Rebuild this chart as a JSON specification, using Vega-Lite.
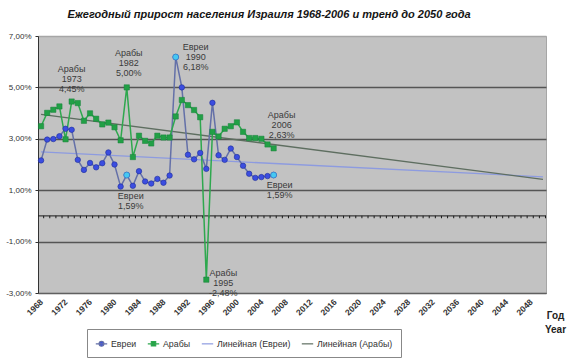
{
  "$schema": "https://vega.github.io/schema/vega-lite/v6.json",
  "width": 508,
  "height": 257,
  "autosize": {"type": "none"},
  "padding": {"left": 38, "top": 36, "right": 24, "bottom": 68},
  "background": "white",
  "config": {
    "font": "Liberation Sans",
    "view": {"fill": "#c2c2c2", "stroke": "#a6a6a6", "strokeWidth": 1},
    "axisX": {"labelAngle": -45, "labelAlign": "right", "labelBaseline": "middle", "labelFontSize": 8.5, "labelFontWeight": "bold", "labelColor": "#333333", "ticks": false, "grid": false, "domainColor": "#606060", "labelPadding": 7, "labelFlush": false, "labelOverlap": false, "titleX": 517, "titleY": 22, "titleAlign": "center", "titleBaseline": "middle", "titleFontSize": 10, "titleFontWeight": "bold", "titleColor": "#222222", "titleLineHeight": 14, "format": "d"},
    "axisY": {"grid": true, "gridWidth": 1.3, "domainColor": "#333333", "tickColor": "#333333", "tickSize": 3, "labelFontSize": 8, "labelColor": "#333333", "labelPadding": 4}
  },
  "title": {"text": "Ежегодный прирост населения Израиля 1968-2006 и тренд до 2050 года", "fontSize": 11, "fontWeight": "bold", "fontStyle": "italic", "color": "#151515", "anchor": "middle", "dx": -23, "offset": 12},
  "datasets": {
    "main": [
      {"series": "Евреи", "year": 1968, "value": 2.16}, {"series": "Евреи", "year": 1969, "value": 2.97}, {"series": "Евреи", "year": 1970, "value": 2.99}, {"series": "Евреи", "year": 1971, "value": 3.10}, {"series": "Евреи", "year": 1972, "value": 3.39}, {"series": "Евреи", "year": 1973, "value": 3.35}, {"series": "Евреи", "year": 1974, "value": 2.18}, {"series": "Евреи", "year": 1975, "value": 1.79}, {"series": "Евреи", "year": 1976, "value": 2.06}, {"series": "Евреи", "year": 1977, "value": 1.89}, {"series": "Евреи", "year": 1978, "value": 2.05}, {"series": "Евреи", "year": 1979, "value": 2.47}, {"series": "Евреи", "year": 1980, "value": 2.00}, {"series": "Евреи", "year": 1981, "value": 1.14}, {"series": "Евреи", "year": 1982, "value": 1.59}, {"series": "Евреи", "year": 1983, "value": 1.17}, {"series": "Евреи", "year": 1984, "value": 1.74}, {"series": "Евреи", "year": 1985, "value": 1.34}, {"series": "Евреи", "year": 1986, "value": 1.26}, {"series": "Евреи", "year": 1987, "value": 1.44}, {"series": "Евреи", "year": 1988, "value": 1.29}, {"series": "Евреи", "year": 1989, "value": 1.57}, {"series": "Евреи", "year": 1990, "value": 6.18}, {"series": "Евреи", "year": 1991, "value": 5.00}, {"series": "Евреи", "year": 1992, "value": 2.38}, {"series": "Евреи", "year": 1993, "value": 2.20}, {"series": "Евреи", "year": 1994, "value": 2.45}, {"series": "Евреи", "year": 1995, "value": 1.83}, {"series": "Евреи", "year": 1996, "value": 4.40}, {"series": "Евреи", "year": 1997, "value": 2.36}, {"series": "Евреи", "year": 1998, "value": 2.18}, {"series": "Евреи", "year": 1999, "value": 2.62}, {"series": "Евреи", "year": 2000, "value": 2.29}, {"series": "Евреи", "year": 2001, "value": 1.95}, {"series": "Евреи", "year": 2002, "value": 1.64}, {"series": "Евреи", "year": 2003, "value": 1.48}, {"series": "Евреи", "year": 2004, "value": 1.51}, {"series": "Евреи", "year": 2005, "value": 1.55}, {"series": "Евреи", "year": 2006, "value": 1.59},
      {"series": "Арабы", "year": 1968, "value": 3.49}, {"series": "Арабы", "year": 1969, "value": 4.01}, {"series": "Арабы", "year": 1970, "value": 4.13}, {"series": "Арабы", "year": 1971, "value": 4.26}, {"series": "Арабы", "year": 1972, "value": 2.98}, {"series": "Арабы", "year": 1973, "value": 4.45}, {"series": "Арабы", "year": 1974, "value": 4.39}, {"series": "Арабы", "year": 1975, "value": 3.70}, {"series": "Арабы", "year": 1976, "value": 3.99}, {"series": "Арабы", "year": 1977, "value": 3.78}, {"series": "Арабы", "year": 1978, "value": 3.56}, {"series": "Арабы", "year": 1979, "value": 3.63}, {"series": "Арабы", "year": 1980, "value": 3.45}, {"series": "Арабы", "year": 1981, "value": 2.94}, {"series": "Арабы", "year": 1982, "value": 5.00}, {"series": "Арабы", "year": 1983, "value": 2.29}, {"series": "Арабы", "year": 1984, "value": 3.12}, {"series": "Арабы", "year": 1985, "value": 2.92}, {"series": "Арабы", "year": 1986, "value": 2.82}, {"series": "Арабы", "year": 1987, "value": 3.12}, {"series": "Арабы", "year": 1988, "value": 3.05}, {"series": "Арабы", "year": 1989, "value": 3.05}, {"series": "Арабы", "year": 1990, "value": 3.87}, {"series": "Арабы", "year": 1991, "value": 4.51}, {"series": "Арабы", "year": 1992, "value": 4.31}, {"series": "Арабы", "year": 1993, "value": 4.12}, {"series": "Арабы", "year": 1994, "value": 3.84}, {"series": "Арабы", "year": 1995, "value": -2.48}, {"series": "Арабы", "year": 1996, "value": 3.27}, {"series": "Арабы", "year": 1997, "value": 3.09}, {"series": "Арабы", "year": 1998, "value": 3.39}, {"series": "Арабы", "year": 1999, "value": 3.49}, {"series": "Арабы", "year": 2000, "value": 3.64}, {"series": "Арабы", "year": 2001, "value": 3.27}, {"series": "Арабы", "year": 2002, "value": 3.03}, {"series": "Арабы", "year": 2003, "value": 3.03}, {"series": "Арабы", "year": 2004, "value": 3.00}, {"series": "Арабы", "year": 2005, "value": 2.78}, {"series": "Арабы", "year": 2006, "value": 2.63}
    ],
    "trend": [
      {"series": "Линейная (Евреи)", "year": 1968, "value": 2.49}, {"series": "Линейная (Евреи)", "year": 2050, "value": 1.52},
      {"series": "Линейная (Арабы)", "year": 1968, "value": 3.95}, {"series": "Линейная (Арабы)", "year": 2050, "value": 1.42}
    ]
  },
  "layer": [
    {
      "data": {"values": [{"value": 0}]},
      "mark": {"type": "rule", "color": "#1a1a1a", "strokeWidth": 1},
      "encoding": {
        "y": {"field": "value", "type": "quantitative", "title": null, "scale": {"domain": [-3, 7], "nice": false, "zero": false}, "axis": {"values": [-3, -1, 1, 3, 5, 7], "labelExpr": "replace(replace(format(datum.value, '.2f'), '.', ','), '\u2212', '-') + '%'", "gridColor": {"condition": {"test": "datum.value === 7", "value": "#a6a6a6"}, "value": "#555555"}}}
      }
    },
    {
      "data": {"values": [{"value": 0}]},
      "mark": {"type": "rule", "color": "#1a1a1a", "strokeWidth": 2.5, "strokeDash": [1, 5.12], "yOffset": 1.2},
      "encoding": {
        "y": {"field": "value", "type": "quantitative", "title": null, "scale": {"domain": [-3, 7], "nice": false, "zero": false}, "axis": {"values": [-3, -1, 1, 3, 5, 7], "labelExpr": "replace(replace(format(datum.value, '.2f'), '.', ','), '\u2212', '-') + '%'", "gridColor": {"condition": {"test": "datum.value === 7", "value": "#a6a6a6"}, "value": "#555555"}}}
      }
    },
    {
      "data": {"name": "trend"},
      "mark": {"type": "line", "strokeWidth": 1.3},
      "encoding": {
        "x": {"field": "year", "type": "quantitative", "title": ["Год", "Year"], "scale": {"domain": [1967.5, 2050.5], "nice": false, "zero": false}, "axis": {"values": [1968, 1972, 1976, 1980, 1984, 1988, 1992, 1996, 2000, 2004, 2008, 2012, 2016, 2020, 2024, 2028, 2032, 2036, 2040, 2044, 2048]}},
        "y": {"field": "value", "type": "quantitative", "title": null, "scale": {"domain": [-3, 7], "nice": false, "zero": false}, "axis": {"values": [-3, -1, 1, 3, 5, 7], "labelExpr": "replace(replace(format(datum.value, '.2f'), '.', ','), '\u2212', '-') + '%'", "gridColor": {"condition": {"test": "datum.value === 7", "value": "#a6a6a6"}, "value": "#555555"}}},
        "color": {"field": "series", "type": "nominal", "scale": {"domain": ["Евреи", "Арабы", "Линейная (Евреи)", "Линейная (Арабы)"], "range": ["#6470a8", "#2ea84e", "#8d9be0", "#5e6e60"]},
          "legend": {"orient": "none", "legendX": 49, "legendY": 293, "direction": "horizontal", "columns": 4, "title": null, "fillColor": "white", "strokeColor": "#888888", "padding": 8, "labelFontSize": 8.8, "labelColor": "#333333", "symbolSize": 130, "labelOffset": 3, "columnPadding": 8, "symbolStrokeWidth": 1.2,
            "encode": {"symbols": {"update": {
              "shape": {"signal": "datum.value === 'Евреи' ? 'M-1,0H1M-0.42,0A0.42,0.42,0,1,1,0.42,0A0.42,0.42,0,1,1,-0.42,0Z' : datum.value === 'Арабы' ? 'M-1,0H1M-0.38,-0.38H0.38V0.38H-0.38Z' : 'M-1,0H1'"},
              "fill": {"signal": "datum.value === 'Евреи' ? '#3a4fe0' : datum.value === 'Арабы' ? '#22a046' : 'transparent'"},
              "stroke": {"signal": "datum.value === 'Евреи' ? '#3a4fe0' : datum.value === 'Арабы' ? '#22a046' : datum.value === 'Линейная (Евреи)' ? '#a8acc8' : '#707070'"},
              "strokeWidth": {"value": 1.2},
              "opacity": {"value": 1}
            }}}}}
      }
    },
    {
      "data": {"name": "main"},
      "mark": {"type": "line", "strokeWidth": 1.5},
      "encoding": {
        "x": {"field": "year", "type": "quantitative", "title": ["Год", "Year"], "scale": {"domain": [1967.5, 2050.5], "nice": false, "zero": false}, "axis": {"values": [1968, 1972, 1976, 1980, 1984, 1988, 1992, 1996, 2000, 2004, 2008, 2012, 2016, 2020, 2024, 2028, 2032, 2036, 2040, 2044, 2048]}},
        "y": {"field": "value", "type": "quantitative", "title": null, "scale": {"domain": [-3, 7], "nice": false, "zero": false}, "axis": {"values": [-3, -1, 1, 3, 5, 7], "labelExpr": "replace(replace(format(datum.value, '.2f'), '.', ','), '\u2212', '-') + '%'", "gridColor": {"condition": {"test": "datum.value === 7", "value": "#a6a6a6"}, "value": "#555555"}}},
        "color": {"field": "series", "type": "nominal", "scale": {"domain": ["Евреи", "Арабы", "Линейная (Евреи)", "Линейная (Арабы)"], "range": ["#6470a8", "#2ea84e", "#8d9be0", "#5e6e60"]}}
      }
    },
    {
      "data": {"name": "main"},
      "transform": [{"filter": "datum.series === 'Евреи'"}],
      "mark": {"type": "point", "shape": "circle", "filled": true, "fill": "#3b4de0", "stroke": "#1f2d99", "strokeWidth": 0.6, "size": 30, "opacity": 1},
      "encoding": {
        "x": {"field": "year", "type": "quantitative", "title": ["Год", "Year"], "scale": {"domain": [1967.5, 2050.5], "nice": false, "zero": false}, "axis": {"values": [1968, 1972, 1976, 1980, 1984, 1988, 1992, 1996, 2000, 2004, 2008, 2012, 2016, 2020, 2024, 2028, 2032, 2036, 2040, 2044, 2048]}},
        "y": {"field": "value", "type": "quantitative", "title": null, "scale": {"domain": [-3, 7], "nice": false, "zero": false}, "axis": {"values": [-3, -1, 1, 3, 5, 7], "labelExpr": "replace(replace(format(datum.value, '.2f'), '.', ','), '\u2212', '-') + '%'", "gridColor": {"condition": {"test": "datum.value === 7", "value": "#a6a6a6"}, "value": "#555555"}}}
      }
    },
    {
      "data": {"name": "main"},
      "transform": [{"filter": "datum.series === 'Арабы'"}],
      "mark": {"type": "point", "shape": "square", "filled": true, "fill": "#22a046", "stroke": "#17803a", "strokeWidth": 0.5, "size": 28, "opacity": 1},
      "encoding": {
        "x": {"field": "year", "type": "quantitative", "title": ["Год", "Year"], "scale": {"domain": [1967.5, 2050.5], "nice": false, "zero": false}, "axis": {"values": [1968, 1972, 1976, 1980, 1984, 1988, 1992, 1996, 2000, 2004, 2008, 2012, 2016, 2020, 2024, 2028, 2032, 2036, 2040, 2044, 2048]}},
        "y": {"field": "value", "type": "quantitative", "title": null, "scale": {"domain": [-3, 7], "nice": false, "zero": false}, "axis": {"values": [-3, -1, 1, 3, 5, 7], "labelExpr": "replace(replace(format(datum.value, '.2f'), '.', ','), '\u2212', '-') + '%'", "gridColor": {"condition": {"test": "datum.value === 7", "value": "#a6a6a6"}, "value": "#555555"}}}
      }
    },
    {
      "data": {"name": "main"},
      "transform": [{"filter": "datum.series === 'Евреи' && (datum.year === 1982 || datum.year === 1990 || datum.year === 2006)"}],
      "mark": {"type": "point", "shape": "circle", "filled": true, "fill": "#45c8f2", "stroke": "#3a7ac8", "strokeWidth": 0.8, "size": 36, "opacity": 1},
      "encoding": {
        "x": {"field": "year", "type": "quantitative", "title": ["Год", "Year"], "scale": {"domain": [1967.5, 2050.5], "nice": false, "zero": false}, "axis": {"values": [1968, 1972, 1976, 1980, 1984, 1988, 1992, 1996, 2000, 2004, 2008, 2012, 2016, 2020, 2024, 2028, 2032, 2036, 2040, 2044, 2048]}},
        "y": {"field": "value", "type": "quantitative", "title": null, "scale": {"domain": [-3, 7], "nice": false, "zero": false}, "axis": {"values": [-3, -1, 1, 3, 5, 7], "labelExpr": "replace(replace(format(datum.value, '.2f'), '.', ','), '\u2212', '-') + '%'", "gridColor": {"condition": {"test": "datum.value === 7", "value": "#a6a6a6"}, "value": "#555555"}}}
      }
    },
    {
      "data": {"values": [{"year": 1973, "value": 4.45, "label": "Арабы\n1973\n4,45%"}]},
      "mark": {"type": "text", "lineBreak": "\n", "fontSize": 9, "lineHeight": 10, "color": "#3a3a3a", "align": "center", "baseline": "middle", "dx": 0, "dy": -33},
      "encoding": {
        "x": {"field": "year", "type": "quantitative", "title": ["Год", "Year"], "scale": {"domain": [1967.5, 2050.5], "nice": false, "zero": false}, "axis": {"values": [1968, 1972, 1976, 1980, 1984, 1988, 1992, 1996, 2000, 2004, 2008, 2012, 2016, 2020, 2024, 2028, 2032, 2036, 2040, 2044, 2048]}},
        "y": {"field": "value", "type": "quantitative", "title": null, "scale": {"domain": [-3, 7], "nice": false, "zero": false}, "axis": {"values": [-3, -1, 1, 3, 5, 7], "labelExpr": "replace(replace(format(datum.value, '.2f'), '.', ','), '\u2212', '-') + '%'", "gridColor": {"condition": {"test": "datum.value === 7", "value": "#a6a6a6"}, "value": "#555555"}}},
        "text": {"field": "label", "type": "nominal"}
      }
    },
    {
      "data": {"values": [{"year": 1982, "value": 5.00, "label": "Арабы\n1982\n5,00%"}]},
      "mark": {"type": "text", "lineBreak": "\n", "fontSize": 9, "lineHeight": 10, "color": "#3a3a3a", "align": "center", "baseline": "middle", "dx": 2, "dy": -34},
      "encoding": {
        "x": {"field": "year", "type": "quantitative", "title": ["Год", "Year"], "scale": {"domain": [1967.5, 2050.5], "nice": false, "zero": false}, "axis": {"values": [1968, 1972, 1976, 1980, 1984, 1988, 1992, 1996, 2000, 2004, 2008, 2012, 2016, 2020, 2024, 2028, 2032, 2036, 2040, 2044, 2048]}},
        "y": {"field": "value", "type": "quantitative", "title": null, "scale": {"domain": [-3, 7], "nice": false, "zero": false}, "axis": {"values": [-3, -1, 1, 3, 5, 7], "labelExpr": "replace(replace(format(datum.value, '.2f'), '.', ','), '\u2212', '-') + '%'", "gridColor": {"condition": {"test": "datum.value === 7", "value": "#a6a6a6"}, "value": "#555555"}}},
        "text": {"field": "label", "type": "nominal"}
      }
    },
    {
      "data": {"values": [{"year": 1990, "value": 6.18, "label": "Евреи\n1990\n6,18%"}]},
      "mark": {"type": "text", "lineBreak": "\n", "fontSize": 9, "lineHeight": 10, "color": "#3a3a3a", "align": "center", "baseline": "middle", "dx": 20, "dy": -10},
      "encoding": {
        "x": {"field": "year", "type": "quantitative", "title": ["Год", "Year"], "scale": {"domain": [1967.5, 2050.5], "nice": false, "zero": false}, "axis": {"values": [1968, 1972, 1976, 1980, 1984, 1988, 1992, 1996, 2000, 2004, 2008, 2012, 2016, 2020, 2024, 2028, 2032, 2036, 2040, 2044, 2048]}},
        "y": {"field": "value", "type": "quantitative", "title": null, "scale": {"domain": [-3, 7], "nice": false, "zero": false}, "axis": {"values": [-3, -1, 1, 3, 5, 7], "labelExpr": "replace(replace(format(datum.value, '.2f'), '.', ','), '\u2212', '-') + '%'", "gridColor": {"condition": {"test": "datum.value === 7", "value": "#a6a6a6"}, "value": "#555555"}}},
        "text": {"field": "label", "type": "nominal"}
      }
    },
    {
      "data": {"values": [{"year": 1995, "value": -2.48, "label": "Арабы\n1995\n-2,48%"}]},
      "mark": {"type": "text", "lineBreak": "\n", "fontSize": 9, "lineHeight": 10, "color": "#3a3a3a", "align": "center", "baseline": "middle", "dx": 17, "dy": -7},
      "encoding": {
        "x": {"field": "year", "type": "quantitative", "title": ["Год", "Year"], "scale": {"domain": [1967.5, 2050.5], "nice": false, "zero": false}, "axis": {"values": [1968, 1972, 1976, 1980, 1984, 1988, 1992, 1996, 2000, 2004, 2008, 2012, 2016, 2020, 2024, 2028, 2032, 2036, 2040, 2044, 2048]}},
        "y": {"field": "value", "type": "quantitative", "title": null, "scale": {"domain": [-3, 7], "nice": false, "zero": false}, "axis": {"values": [-3, -1, 1, 3, 5, 7], "labelExpr": "replace(replace(format(datum.value, '.2f'), '.', ','), '\u2212', '-') + '%'", "gridColor": {"condition": {"test": "datum.value === 7", "value": "#a6a6a6"}, "value": "#555555"}}},
        "text": {"field": "label", "type": "nominal"}
      }
    },
    {
      "data": {"values": [{"year": 2006, "value": 2.63, "label": "Арабы\n2006\n2,63%"}]},
      "mark": {"type": "text", "lineBreak": "\n", "fontSize": 9, "lineHeight": 10, "color": "#3a3a3a", "align": "center", "baseline": "middle", "dx": 8, "dy": -33},
      "encoding": {
        "x": {"field": "year", "type": "quantitative", "title": ["Год", "Year"], "scale": {"domain": [1967.5, 2050.5], "nice": false, "zero": false}, "axis": {"values": [1968, 1972, 1976, 1980, 1984, 1988, 1992, 1996, 2000, 2004, 2008, 2012, 2016, 2020, 2024, 2028, 2032, 2036, 2040, 2044, 2048]}},
        "y": {"field": "value", "type": "quantitative", "title": null, "scale": {"domain": [-3, 7], "nice": false, "zero": false}, "axis": {"values": [-3, -1, 1, 3, 5, 7], "labelExpr": "replace(replace(format(datum.value, '.2f'), '.', ','), '\u2212', '-') + '%'", "gridColor": {"condition": {"test": "datum.value === 7", "value": "#a6a6a6"}, "value": "#555555"}}},
        "text": {"field": "label", "type": "nominal"}
      }
    },
    {
      "data": {"values": [{"year": 1982, "value": 1.59, "label": "Евреи\n1,59%"}]},
      "mark": {"type": "text", "lineBreak": "\n", "fontSize": 9, "lineHeight": 10, "color": "#3a3a3a", "align": "center", "baseline": "middle", "dx": 4, "dy": 21},
      "encoding": {
        "x": {"field": "year", "type": "quantitative", "title": ["Год", "Year"], "scale": {"domain": [1967.5, 2050.5], "nice": false, "zero": false}, "axis": {"values": [1968, 1972, 1976, 1980, 1984, 1988, 1992, 1996, 2000, 2004, 2008, 2012, 2016, 2020, 2024, 2028, 2032, 2036, 2040, 2044, 2048]}},
        "y": {"field": "value", "type": "quantitative", "title": null, "scale": {"domain": [-3, 7], "nice": false, "zero": false}, "axis": {"values": [-3, -1, 1, 3, 5, 7], "labelExpr": "replace(replace(format(datum.value, '.2f'), '.', ','), '\u2212', '-') + '%'", "gridColor": {"condition": {"test": "datum.value === 7", "value": "#a6a6a6"}, "value": "#555555"}}},
        "text": {"field": "label", "type": "nominal"}
      }
    },
    {
      "data": {"values": [{"year": 2006, "value": 1.59, "label": "Евреи\n1,59%"}]},
      "mark": {"type": "text", "lineBreak": "\n", "fontSize": 9, "lineHeight": 10, "color": "#3a3a3a", "align": "center", "baseline": "middle", "dx": 6, "dy": 10},
      "encoding": {
        "x": {"field": "year", "type": "quantitative", "title": ["Год", "Year"], "scale": {"domain": [1967.5, 2050.5], "nice": false, "zero": false}, "axis": {"values": [1968, 1972, 1976, 1980, 1984, 1988, 1992, 1996, 2000, 2004, 2008, 2012, 2016, 2020, 2024, 2028, 2032, 2036, 2040, 2044, 2048]}},
        "y": {"field": "value", "type": "quantitative", "title": null, "scale": {"domain": [-3, 7], "nice": false, "zero": false}, "axis": {"values": [-3, -1, 1, 3, 5, 7], "labelExpr": "replace(replace(format(datum.value, '.2f'), '.', ','), '\u2212', '-') + '%'", "gridColor": {"condition": {"test": "datum.value === 7", "value": "#a6a6a6"}, "value": "#555555"}}},
        "text": {"field": "label", "type": "nominal"}
      }
    }
  ]
}
